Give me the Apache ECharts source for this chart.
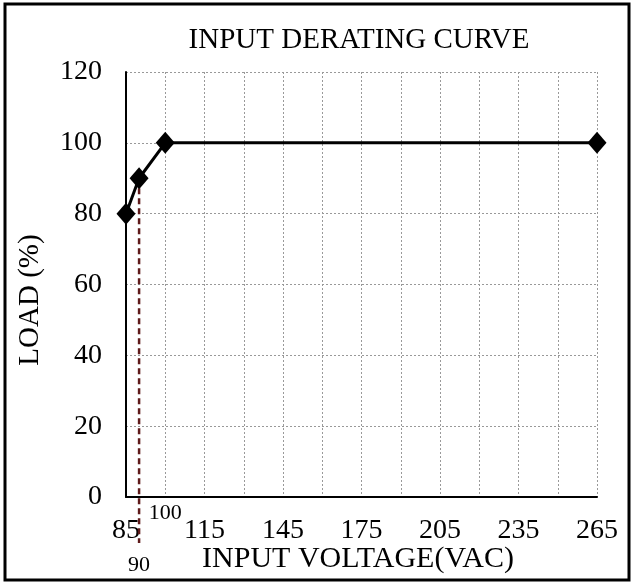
<!DOCTYPE html>
<html><head><meta charset="utf-8">
<script src="https://cdn.jsdelivr.net/npm/echarts@6/dist/echarts.min.js"></script>
<style>html,body{margin:0;padding:0;background:#fff}#c{width:634px;height:585px}</style>
</head><body><div id="c"></div>
<script>
const voltage = [85, 90, 100, 265];
const load = [80, 90, 100, 100];
const xMainTicks = [85, 115, 145, 175, 205, 235, 265];
const markerX = 90;
const markerBottom = -13;
const extraLabels = [[100, -4.5, '100'], [90, -19.2, '90']];

const FONT = 'Liberation Serif';
const chart = echarts.init(document.getElementById('c'), null, {renderer: 'canvas'});
chart.setOption({
  animation: false,
  backgroundColor: '#fff',
  grid: {left: 126, right: 37, top: 72, bottom: 88},
  xAxis: {
    type: 'value', min: 85, max: 265, interval: 15,
    axisLine: {show: true, lineStyle: {color: '#000', width: 2}},
    axisTick: {show: false},
    axisLabel: {
      margin: 20, color: '#000', fontFamily: FONT, fontSize: 28,
      formatter: v => xMainTicks.indexOf(v) >= 0 ? String(v) : ''
    },
    splitLine: {show: true, lineStyle: {color: '#999', type: [2, 2], width: 1}}
  },
  yAxis: {
    type: 'value', min: 0, max: 120, interval: 20,
    axisLine: {show: true, lineStyle: {color: '#000', width: 2}},
    axisTick: {show: false},
    axisLabel: {margin: 24, color: '#000', fontFamily: FONT, fontSize: 28},
    splitLine: {show: true, lineStyle: {color: '#999', type: [2, 2], width: 1}}
  },
  graphic: [
    {type: 'rect', shape: {x: 5, y: 4, width: 624, height: 576}, style: {fill: 'none', stroke: '#000', lineWidth: 3}, z: 100},
    {type: 'text', x: 359, y: 40, style: {text: 'INPUT DERATING CURVE', font: '29px "Liberation Serif"', fill: '#000', align: 'center', verticalAlign: 'middle'}},
    {type: 'text', x: 358, y: 559, style: {text: 'INPUT VOLTAGE(VAC)', font: '30px "Liberation Serif"', fill: '#000', align: 'center', verticalAlign: 'middle'}},
    {type: 'text', x: 30, y: 300, rotation: Math.PI / 2, style: {text: 'LOAD (%)', font: '29px "Liberation Serif"', fill: '#000', align: 'center', verticalAlign: 'middle'}}
  ],
  series: [
    {
      type: 'line', clip: false, symbol: 'none', z: 1,
      data: [[markerX, load[1]], [markerX, markerBottom]],
      lineStyle: {color: '#5e1a1a', width: 2.5, type: [6, 4]}
    },
    {
      type: 'line', clip: false, z: 3,
      data: voltage.map((v, i) => [v, load[i]]),
      symbol: 'diamond', symbolSize: [19, 22],
      itemStyle: {color: '#000'},
      lineStyle: {color: '#000', width: 3}
    },
    {
      type: 'scatter', clip: false, symbolSize: 0, z: 4,
      itemStyle: {opacity: 1, color: '#000'},
      data: extraLabels,
      label: {show: true, position: 'inside', formatter: p => p.value[2], color: '#000', opacity: 1, fontFamily: FONT, fontSize: 22}
    }
  ]
});
</script></body></html>
